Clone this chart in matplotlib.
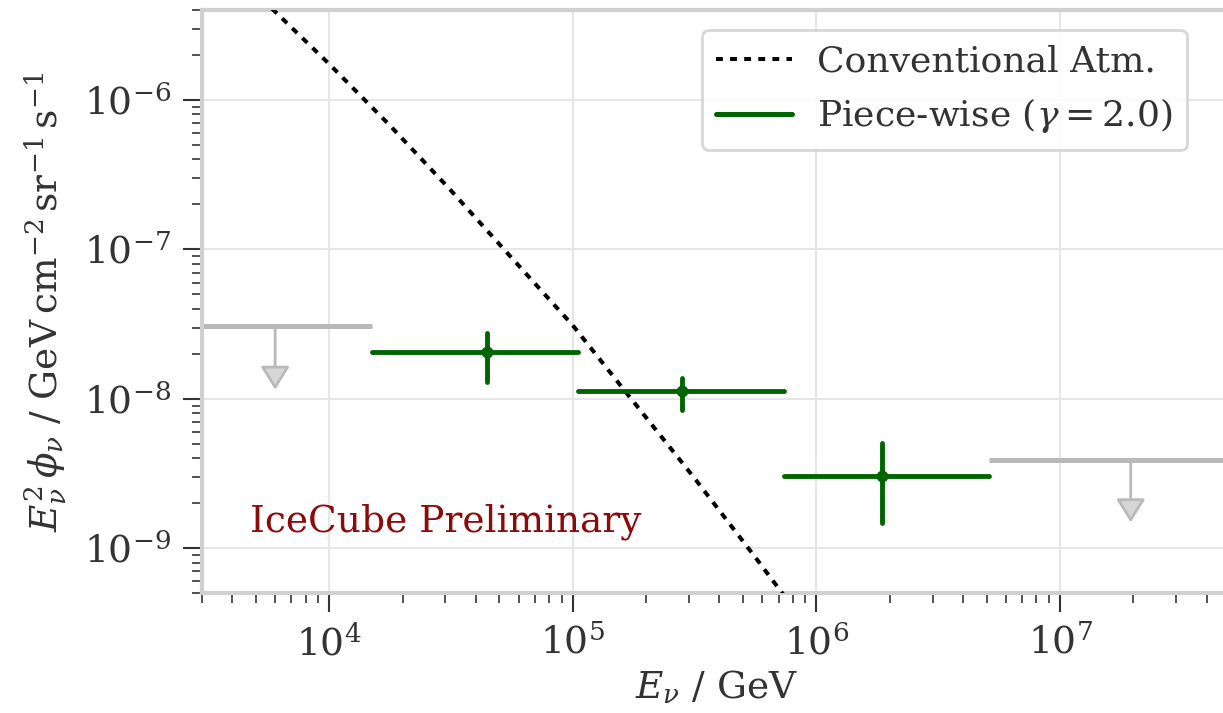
import numpy as np
import matplotlib
matplotlib.use("Agg")
import matplotlib.pyplot as plt
from matplotlib.lines import Line2D

plt.rcParams['font.family'] = 'serif'
plt.rcParams['font.serif'] = ['DejaVu Serif']
plt.rcParams['mathtext.fontset'] = 'dejavuserif'
plt.rcParams['font.size'] = 27

# conventional atmospheric flux
conv_energy = [5.01e3, 6.12e3, 1.0e4, 1.78e4, 3.16e4, 5.62e4, 1.0e5, 1.78e5,
               3.16e5, 5.62e5, 7.35e5, 8.91e5]
conv_flux = [5.14e-6, 3.78e-6, 1.74e-6, 6.72e-7, 2.48e-7, 8.75e-8, 3.1e-8, 9.5e-9,
             2.94e-9, 8.67e-10, 4.84e-10, 3.16e-10]

# piece-wise unfolding (gamma = 2.0)
pw_center = np.array([4.45e4, 2.8e5, 1.85e6])
pw_low = np.array([1.5e4, 1.05e5, 7.35e5])
pw_high = np.array([1.05e5, 7.35e5, 5.1e6])
pw_flux = np.array([2.05e-8, 1.12e-8, 3.05e-9])
pw_flux_low = np.array([1.30e-8, 8.4e-9, 1.47e-9])
pw_flux_high = np.array([2.75e-8, 1.38e-8, 5.1e-9])

# upper limits in the outer bins
ul_center = np.array([6.0e3, 1.95e7])
ul_low = np.array([2.0e3, 5.1e6])
ul_high = np.array([1.5e4, 1.0e8])
ul_flux = np.array([3.05e-8, 3.9e-9])
ul_tip = np.array([1.15e-8, 1.49e-9])

green = '#006400'
grey = '#b9b9b9'
text_col = '#333333'

fig = plt.figure(figsize=(12.23, 7.13), dpi=100)
ax = fig.add_axes([0.165, 0.168, 0.841, 0.818])

ax.plot(conv_energy, conv_flux, color='black', lw=2.9, ls=(0, (1.7, 1.8)), zorder=3)

# upper limits: horizontal bin line + downward arrow
ax.errorbar(ul_center, ul_flux, xerr=[ul_center - ul_low, ul_high - ul_center],
            fmt='none', ecolor=grey, elinewidth=3.6, capsize=0, zorder=2)
for x, y, tip in zip(ul_center, ul_flux, ul_tip):
    ax.annotate('', xy=(x, tip), xytext=(x, y),
                arrowprops=dict(arrowstyle='-|>,head_width=0.45,head_length=0.72',
                                mutation_scale=20, lw=2, ec=grey, fc='#d6d6d6',
                                shrinkA=0, shrinkB=0), zorder=2)

eb = ax.errorbar(pw_center, pw_flux,
                 xerr=[pw_center - pw_low, pw_high - pw_center],
                 yerr=[pw_flux - pw_flux_low, pw_flux_high - pw_flux],
                 fmt='o', color=green, ms=7.5, elinewidth=3.5, capsize=0, zorder=4)
for coll in eb[2]:
    coll.set_capstyle('round')

ax.text(0.047, 0.122, 'IceCube Preliminary', color='#8b0a0a',
        transform=ax.transAxes, ha='left', va='center')

ax.set_xscale('log')
ax.set_yscale('log')
ax.set_xlim(3e3, 5e7)
ax.set_ylim(5e-10, 4e-6)

ax.grid(True, which='major', color='#e6e6e6', lw=1.5)
ax.set_axisbelow(True)
for side in ['left', 'bottom', 'top', 'right']:
    ax.spines[side].set_color('#d0d0d0')
    ax.spines[side].set_linewidth(3)

ax.tick_params(which='major', length=14, width=1.5, color=text_col)
ax.tick_params(which='minor', length=7, width=1.2, color=text_col)
ax.tick_params(axis='x', which='major', pad=9)
ax.tick_params(axis='y', which='major', pad=8)
ax.tick_params(axis='both', labelsize=27, labelcolor=text_col)

ax.set_xlabel(r'$E_\nu\ /\ \mathrm{GeV}$', color=text_col, labelpad=4)
ax.set_ylabel(r'$E_\nu^2\,\phi_\nu\ /\ \mathrm{GeV\,cm^{-2}\,sr^{-1}\,s^{-1}}$',
              color=text_col, labelpad=10)

handles = [Line2D([], [], color='black', lw=2.9, ls=(0, (1.7, 1.8))),
           Line2D([], [], color=green, lw=3.6, solid_capstyle='round')]
labels = ['Conventional Atm.', r'Piece-wise ($\gamma = 2.0$)']
leg = ax.legend(handles, labels, loc='upper right', bbox_to_anchor=(0.958, 0.966),
                borderaxespad=0, handlelength=2.1, handletextpad=0.7, fontsize=26,
                edgecolor='#d0d0d0', framealpha=0.85, labelcolor=text_col)
leg.get_frame().set_linewidth(2)

fig.savefig('out.png', dpi=100)
